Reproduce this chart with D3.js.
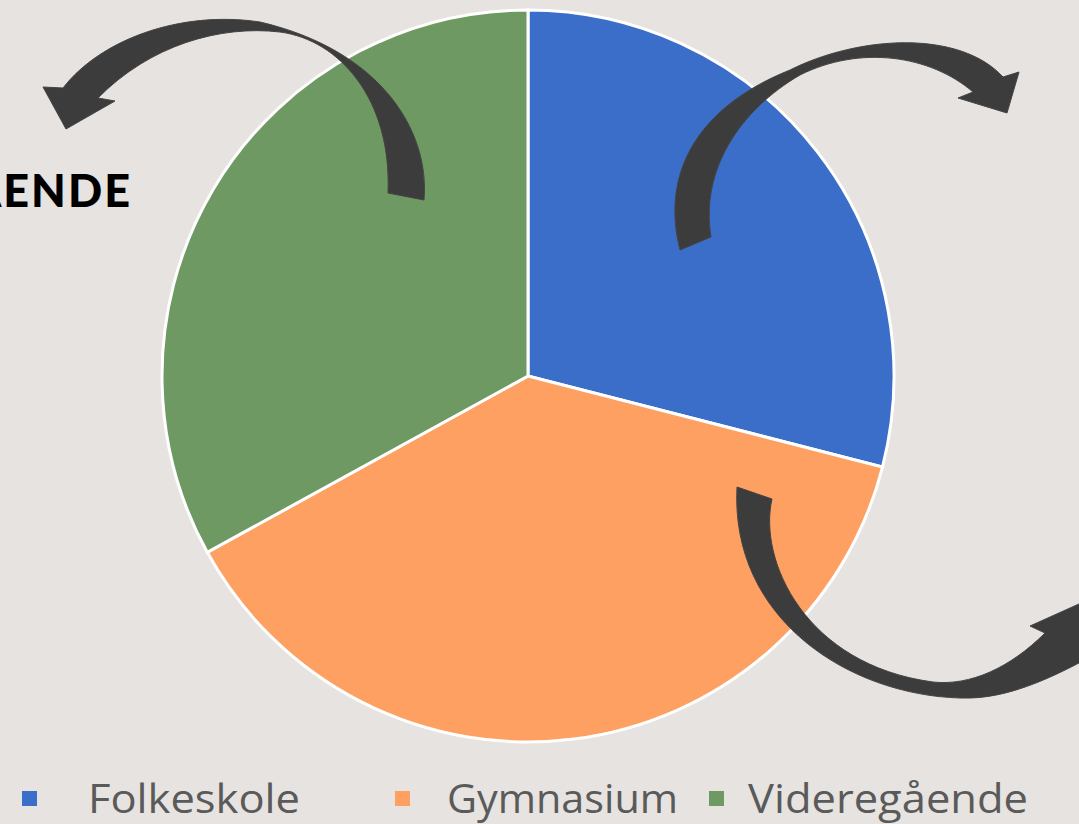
<!DOCTYPE html>
<html lang="da">
    <head>
        <meta charset="utf-8">
        <title>Uddannelse</title>
        <script type="text/javascript" src="https://cdn.jsdelivr.net/npm/d3@7"></script>
        <style>
            body { margin: 0; background: #e6e3e0; overflow: hidden; }
        </style>
    </head>
    <body>
        <script type="text/javascript">
        // data
        var categories = ["Folkeskole", "Gymnasium", "Videregående"];
        var values = [29, 38, 33];
        var colors = ["#3b6ec8", "#fea062", "#6f9963"];
        var sideLabel = "VIDEREGÅENDE";

        var w = 1079;
        var h = 824;
        var cx = 528, cy = 376, radius = 366;

        var svg = d3.select("body")
                    .append("svg")
                    .attr("width", w)
                    .attr("height", h);

        svg.append("rect")
            .attr("width", w)
            .attr("height", h)
            .attr("fill", "#e6e3e0");

        var pie = d3.pie().sort(null).value(function(d) { return d; });
        var arc = d3.arc().innerRadius(0).outerRadius(radius);
        var color = d3.scaleOrdinal().domain(categories).range(colors);

        svg.append("g")
            .attr("transform", "translate(" + cx + "," + cy + ")")
            .selectAll("path")
            .data(pie(values))
            .enter()
            .append("path")
            .attr("d", arc)
            .attr("fill", function(d, i) { return color(categories[i]); })
            .attr("stroke", "#ffffff")
            .attr("stroke-width", 3);

        // decorative curved arrows
        var arrows = [
            "M388,193 L424,200 C430,130 380,50 260,22 C180,10 100,40 63,88 L43,87 L66,129 L115,101 L98,98 C150,45 220,25 280,32 C340,40 392,100 388,193 Z",
            "M711,237 L680,250 C662,180 690,110 790,70 C860,35 960,30 1003,77 L1019,72 L1007,113 L958,98 L973,92 C930,55 860,45 800,75 C740,110 700,170 711,237 Z",
            "M737,487 L772,499 C758,560 805,665 933,682 C970,686 1010,668 1045,633 L1030,626 L1110,590 L1120,640 C1060,675 1010,700 960,698 C850,695 730,620 737,487 Z"
        ];
        svg.selectAll("path.arrow")
            .data(arrows)
            .enter()
            .append("path")
            .attr("class", "arrow")
            .attr("d", function(d) { return d; })
            .attr("fill", "#3c3c3c")
            .attr("stroke", "#444")
            .attr("stroke-width", 1);

        svg.append("text")
            .text(sideLabel)
            .attr("x", 132)
            .attr("y", 207)
            .attr("text-anchor", "end")
            .attr("font-family", "Lato, sans-serif")
            .attr("font-weight", 900)
            .attr("font-size", "45px")
            .attr("letter-spacing", "2px")
            .attr("fill", "#000");

        // legend
        var legendX = [22, 395, 709];
        var legendTextX = [88, 447, 748];
        var legendTextW = [212, 231, 280];
        var legend = svg.selectAll("g.legend")
            .data(categories)
            .enter()
            .append("g")
            .attr("class", "legend");

        legend.append("rect")
            .attr("x", function(d, i) { return legendX[i]; })
            .attr("y", 791)
            .attr("width", 15)
            .attr("height", 15)
            .attr("fill", function(d) { return color(d); });

        legend.append("text")
            .text(function(d) { return d; })
            .attr("x", function(d, i) { return legendTextX[i]; })
            .attr("y", 813)
            .attr("textLength", function(d, i) { return legendTextW[i]; })
            .attr("lengthAdjust", "spacingAndGlyphs")
            .attr("font-family", "'Open Sans', sans-serif")
            .attr("font-weight", 400)
            .attr("font-size", "40px")
            .attr("fill", "#5a5a5a");
        </script>
    </body>
</html>
